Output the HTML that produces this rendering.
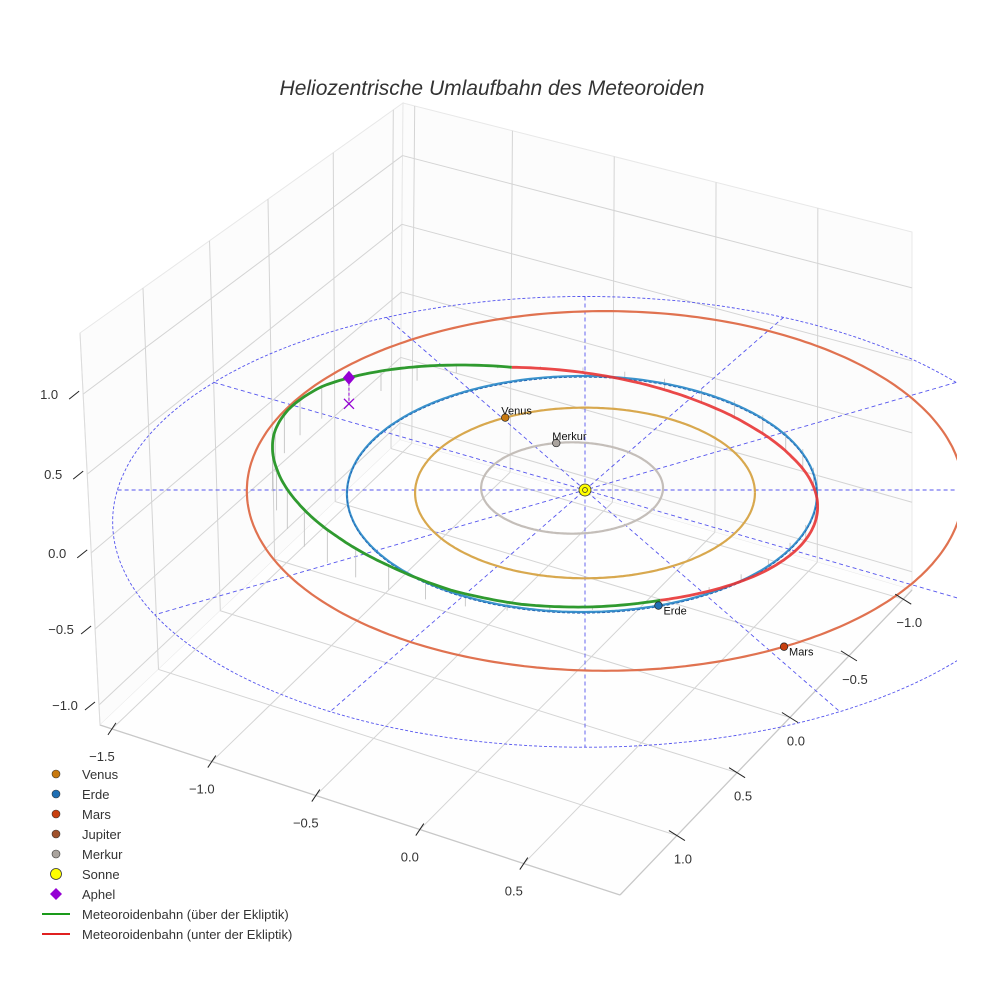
<!DOCTYPE html>
<html><head><meta charset="utf-8">
<style>
html,body{margin:0;padding:0;background:#fff;}
svg{display:block;font-family:"Liberation Sans",sans-serif;}
</style></head>
<body>
<svg id="chart" width="984" height="984" viewBox="0 0 984 984" xmlns="http://www.w3.org/2000/svg">
<defs><clipPath id="axclip"><rect x="0" y="90" width="957" height="800"/></clipPath></defs>
<text x="492" y="95" text-anchor="middle" font-size="21" font-style="italic" fill="#333">Heliozentrische Umlaufbahn des Meteoroiden</text>
<g id="box"></g>
<g id="plot" clip-path="url(#axclip)"></g>
<g id="labels"></g>
<g id="legend"></g>
</svg>
<script>
// ---- data ----
const planetNames = ["Merkur","Venus","Erde","Mars"];
const orbitRadiusAU = [0.387,0.723,1.0,1.524];
const orbitCenterX = [-0.055,0.0,-0.013,0.085];
const orbitCenterY = [0.017,-0.025,-0.034,-0.008];
const planetAngleDeg = [100,118,-71,-60];
const planetColors = ["#aaa49e","#c8790f","#1f6fb4","#c8400f"];
const orbitColors = ["#c4beb9","#d8a84e","#3a92cc","#e07250"];
const meteorA = 1.16, meteorB = 1.04, meteorCx = -0.17, meteorCy = 0.008;
const meteorGreenFrom = 97, meteorGreenTo = 295;
const zAngles = [97,115,130,145,160,175,190,205,220,235,250,265,280,295,310,325,340,355,370,385,400,415,430,445,457];
const zHeights = [0,12,22,32,38,42,42,38,32,24,14,7,3,0,-5,-10,-14,-17,-19,-20,-18,-14,-9,-4,0];
const xTicks = ["\u22121.5","\u22121.0","\u22120.5","0.0","0.5"];
const xTickFrac = [0.023,0.215,0.415,0.615,0.815];
const yTicks = ["\u22121.0","\u22120.5","0.0","0.5","1.0"];
const yTickFrac = [0.03,0.216,0.418,0.599,0.805];
const zTicks = ["\u22121.0","\u22120.5","0.0","0.5","1.0"];
const zTickFrac = [0.051,0.245,0.439,0.640,0.844];
const ringA = 2.01, ringB = 1.91, ringCy = -0.27;
const radialAngles = [0,30,60,90,120,150];
const aphelAngle = 136;

// ---- projection ----
const SUN = [585,490], SX = 235, SY = 118;
function px(x){return SUN[0]+SX*x;}
function py(y){return SUN[1]-SY*y;}
function zAt(deg){let d=deg;while(d<97)d+=360;while(d>457)d-=360;
 for(let i=0;i<zAngles.length-1;i++){if(d>=zAngles[i]&&d<=zAngles[i+1]){const t=(d-zAngles[i])/(zAngles[i+1]-zAngles[i]);return zHeights[i]+(zHeights[i+1]-zHeights[i])*t;}}return 0;}
const NS="http://www.w3.org/2000/svg";
function el(tag,attrs,parent){const e=document.createElementNS(NS,tag);for(const k in attrs)e.setAttribute(k,attrs[k]);parent.appendChild(e);return e;}
const box=document.getElementById('box'),plot=document.getElementById('plot'),labels=document.getElementById('labels'),legend=document.getElementById('legend');

// ---- box ----
const A=[100,725],B=[620,895],C=[912,590],D=[400,440],A2=[80,333],D2=[403,103],C2=[912,232];
function lerp(p,q,t){return [p[0]+(q[0]-p[0])*t,p[1]+(q[1]-p[1])*t];}
function line(p,q,st,w,parent,name){const l=el('line',{x1:p[0],y1:p[1],x2:q[0],y2:q[1],stroke:st,'stroke-width':w},parent);return l;}
let pn=el('polygon',{points:[A,D,D2,A2].map(p=>p.join(',')).join(' '),fill:'#fcfcfc',stroke:'#e8e8e8'},box);

pn=el('polygon',{points:[D,C,C2,D2].map(p=>p.join(',')).join(' '),fill:'#fcfcfc',stroke:'#e8e8e8'},box);

pn=el('polygon',{points:[A,B,C,D].map(p=>p.join(',')).join(' '),fill:'#fefefe',stroke:'none'},box);

const G='#d4d4d4';
xTickFrac.forEach(f=>{line(lerp(A,B,f),lerp(D,C,f),G,1,box,'floor-grid-x');line(lerp(D,C,f),lerp(D2,C2,f),G,1,box,'back-grid-x');});
yTickFrac.forEach(f=>{line(lerp(C,B,f),lerp(D,A,f),G,1,box,'floor-grid-y');line(lerp(D,A,f),lerp(D2,A2,f),G,1,box,'left-grid-y');});
zTickFrac.forEach(f=>{const l=lerp(A,A2,f),d=lerp(D,D2,f),c=lerp(C,C2,f);line(l,d,G,1,box,'left-grid-z');line(d,c,G,1,box,'back-grid-z');});
line(A,B,'#c8c8c8',1.3,box,'x-axis-line');line(B,C,'#c8c8c8',1.3,box,'y-axis-line');line(A,A2,'#dcdcdc',1,box,'z-axis-line');
// ticks + labels
xTickFrac.forEach((f,i)=>{const p=lerp(A,B,f);line([p[0]-4,p[1]+6],[p[0]+4,p[1]-6],'#222',1,labels,'x-tick');
 const t=el('text',{x:p[0]-10,y:p[1]+32,'font-size':13,fill:'#333','text-anchor':'middle'},labels);t.textContent=xTicks[i];});
yTickFrac.forEach((f,i)=>{const p=lerp(C,B,f);line([p[0]-8,p[1]-5],[p[0]+8,p[1]+5],'#222',1,labels,'y-tick');
 const t=el('text',{x:p[0]+6,y:p[1]+28,'font-size':13,fill:'#333','text-anchor':'middle'},labels);t.textContent=yTicks[i];});
zTickFrac.forEach((f,i)=>{const p=lerp(A,A2,f);line([p[0]-14,p[1]+5],[p[0]-4,p[1]-3],'#222',1,labels,'z-tick');
 const t=el('text',{x:p[0]-34,y:p[1]+5,'font-size':13,fill:'#333','text-anchor':'middle'},labels);t.textContent=zTicks[i];});

// ---- plot ----
function ellPath(cx,cy,a,b,t0,t1,lift){let d='';const n=Math.max(8,Math.round(Math.abs(t1-t0)));for(let i=0;i<=n;i++){const deg=t0+(t1-t0)*i/n,t=deg*Math.PI/180;const dz=lift?zAt(deg):0;d+=(i?'L':'M')+px(cx+a*Math.cos(t)).toFixed(1)+','+(py(cy+b*Math.sin(t))-dz).toFixed(1);}return d;}
let p=el('path',{d:ellPath(0,ringCy,ringA,ringB,0,360),fill:'none',stroke:'#5555ee','stroke-width':0.9,'stroke-dasharray':'3,2'},plot);

function ringHit(dx,dy){const cx=SUN[0],cy=py(ringCy),rx=SX*ringA,ry=SY*ringB;const ox=SUN[0]-cx,oy=SUN[1]-cy;
 const a=dx*dx/(rx*rx)+dy*dy/(ry*ry),b=2*(ox*dx/(rx*rx)+oy*dy/(ry*ry)),c=ox*ox/(rx*rx)+oy*oy/(ry*ry)-1;const s=(-b+Math.sqrt(b*b-4*a*c))/(2*a);return [SUN[0]+s*dx,SUN[1]+s*dy];}
radialAngles.forEach(a=>{const t=a*Math.PI/180;const dx=SX*Math.cos(t),dy=-SY*Math.sin(t);const p1=ringHit(dx,dy),p2=ringHit(-dx,-dy);
 const l=el('line',{x1:p1[0],y1:p1[1],x2:p2[0],y2:p2[1],stroke:'#5555ee','stroke-width':0.9,'stroke-dasharray':'4,3'},plot);});
for(let deg=100;deg<455;deg+=9){const t=deg*Math.PI/180;const x=px(meteorCx+meteorA*Math.cos(t)),y0=py(meteorCy+meteorB*Math.sin(t)),z=zAt(deg);
 if(Math.abs(z)<2)continue;
 const l=el('line',{x1:x,y1:y0-z,x2:x,y2:y0,stroke:'#c4c4c4','stroke-width':0.9},plot);}
orbitRadiusAU.forEach((r,i)=>{const o=el('path',{d:ellPath(orbitCenterX[i],orbitCenterY[i],r,r,0,360),fill:'none',stroke:orbitColors[i],'stroke-width':2.2},plot);
 });
p=el('path',{d:ellPath(orbitCenterX[2],orbitCenterY[2]-0.01,1.0,1.0,0,360),fill:'none',stroke:'#1f5fb0','stroke-width':0.8,'stroke-dasharray':'3,2'},plot);

p=el('path',{d:ellPath(meteorCx,meteorCy,meteorA,meteorB,meteorGreenFrom,meteorGreenTo,true),fill:'none',stroke:'#2f9a2f','stroke-width':2.8},plot);

p=el('path',{d:ellPath(meteorCx,meteorCy,meteorA,meteorB,meteorGreenTo-360,meteorGreenFrom,true),fill:'none',stroke:'#e83434','stroke-width':2.8,'stroke-opacity':0.9},plot);

planetNames.forEach((n,i)=>{const t=planetAngleDeg[i]*Math.PI/180,r=orbitRadiusAU[i];const x=px(orbitCenterX[i]+r*Math.cos(t)),y=py(orbitCenterY[i]+r*Math.sin(t));
 const c=el('circle',{cx:x,cy:y,r:3.8,fill:planetColors[i],stroke:'#222','stroke-width':0.7},plot);
 const below=planetAngleDeg[i]<0;const tx=el('text',{x:below?x+5:x-4,y:below?y+9:y-3,'font-size':11,fill:'#111'},plot);tx.textContent=n;});
let s=el('circle',{cx:SUN[0],cy:SUN[1],r:6,fill:'#ffff00',stroke:'#333','stroke-width':0.8},plot);
s=el('circle',{cx:SUN[0],cy:SUN[1],r:2.5,fill:'none',stroke:'#333','stroke-width':0.7},plot);
{const t=aphelAngle*Math.PI/180;const x=px(meteorCx+meteorA*Math.cos(t)),y0=py(meteorCy+meteorB*Math.sin(t)),y=y0-zAt(aphelAngle);
 let l=el('line',{x1:x,y1:y,x2:x,y2:y0,stroke:'#9400d3','stroke-width':1,'stroke-dasharray':'3,2'},plot);
 let d=el('polygon',{points:`${x},${y-7} ${x+6},${y} ${x},${y+7} ${x-6},${y}`,fill:'#9400d3'},plot);
 let k=el('path',{d:`M${x-5},${y0-5}L${x+5},${y0+5}M${x+5},${y0-5}L${x-5},${y0+5}`,stroke:'#9400d3','stroke-width':1.3},plot);}

// ---- legend ----
const legendLabels=["Venus","Erde","Mars","Jupiter","Merkur","Sonne","Aphel","Meteoroidenbahn (über der Ekliptik)","Meteoroidenbahn (unter der Ekliptik)"];
const legendColors=["#c8790f","#1f6fb4","#c8400f","#a0522d","#aaa49e","#ffff00","#9400d3","#1a9a1a","#e02020"];
legendLabels.forEach((lab,i)=>{const y=774+i*20;const g=el('g',{},legend);
 if(i<5)el('circle',{cx:56,cy:y,r:4,fill:legendColors[i],stroke:'#333','stroke-width':0.6},g);
 else if(i===5)el('circle',{cx:56,cy:y,r:5.5,fill:legendColors[i],stroke:'#333','stroke-width':0.8},g);
 else if(i===6)el('polygon',{points:`56,${y-6} 62,${y} 56,${y+6} 50,${y}`,fill:legendColors[i]},g);
 else el('line',{x1:42,y1:y,x2:70,y2:y,stroke:legendColors[i],'stroke-width':2},g);
 const t=el('text',{x:82,y:y+5,'font-size':13,fill:'#333'},g);t.textContent=lab;});
</script>
</body></html>
